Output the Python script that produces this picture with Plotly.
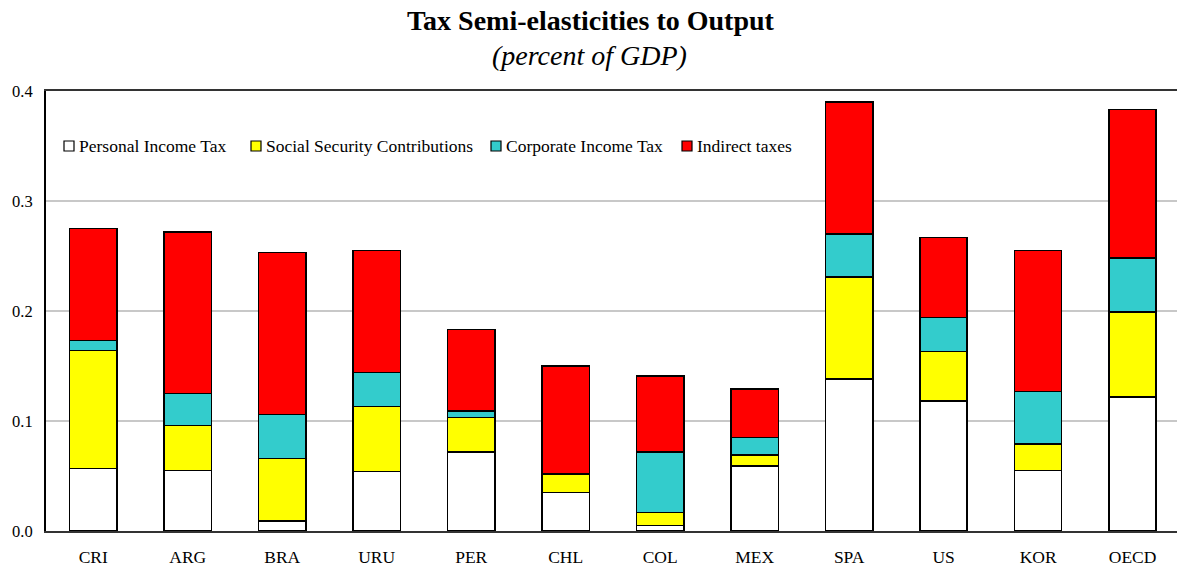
import plotly.graph_objects as go

# Tax semi-elasticities by component, percent of GDP
countries = ["CRI", "ARG", "BRA", "URU", "PER", "CHL", "COL", "MEX", "SPA", "US", "KOR", "OECD"]
personal_income_tax = [0.057, 0.055, 0.009, 0.054, 0.072, 0.035, 0.005, 0.059, 0.138, 0.118, 0.055, 0.122]
social_security = [0.107, 0.041, 0.057, 0.059, 0.031, 0.017, 0.012, 0.010, 0.093, 0.045, 0.024, 0.077]
corporate_income_tax = [0.009, 0.029, 0.040, 0.031, 0.006, 0.000, 0.055, 0.016, 0.039, 0.031, 0.048, 0.049]
indirect_taxes = [0.102, 0.147, 0.147, 0.111, 0.074, 0.098, 0.069, 0.044, 0.120, 0.073, 0.128, 0.135]

series_names = ["Personal Income Tax", "Social Security Contributions", "Corporate Income Tax", "Indirect taxes"]
series_values = [personal_income_tax, social_security, corporate_income_tax, indirect_taxes]
series_colors = ["#FFFFFF", "#FFFF00", "#33CCCC", "#FF0000"]

FONT = "Liberation Serif"
W, H = 1177, 568
L, R, T, B = 46, 0, 91, 37
PW, PH = W - L - R, H - T - B


def px_x(x):
    return (x - L) / PW


def px_y(y):
    return (H - B - y) / PH


fig = go.Figure()
for name, vals, color in zip(series_names, series_values, series_colors):
    fig.add_trace(go.Bar(
        x=countries, y=vals, name=name, width=0.5, showlegend=False,
        marker=dict(color=color, line=dict(color="#000000", width=1.5)),
    ))

# Legend row: small outlined swatch followed by its label
legend_text_x = [77, 264, 504, 695]
legend_y = 146
shapes = []
annotations = []
for name, color, tx in zip(series_names, series_colors, legend_text_x):
    shapes.append(dict(
        type="rect", xref="paper", yref="paper",
        x0=px_x(tx - 13), x1=px_x(tx - 3), y0=px_y(legend_y + 5), y1=px_y(legend_y - 5),
        fillcolor=color, line=dict(color="#000000", width=1.2), layer="above",
    ))
    annotations.append(dict(
        text=name, xref="paper", yref="paper", x=px_x(tx), y=px_y(legend_y),
        xanchor="left", yanchor="middle", showarrow=False,
        font=dict(family=FONT, size=17.5, color="#000000"),
    ))

annotations += [
    dict(text="<b>Tax Semi-elasticities to Output</b>", xref="paper", yref="paper",
         x=px_x(591), y=px_y(21), xanchor="center", yanchor="middle",
         showarrow=False, font=dict(family=FONT, size=28, color="#000000")),
    dict(text="<i>(percent of GDP)</i>", xref="paper", yref="paper",
         x=px_x(589), y=px_y(56), xanchor="center", yanchor="middle",
         showarrow=False, font=dict(family=FONT, size=28, color="#000000")),
]

fig.update_layout(
    barmode="stack",
    width=W, height=H,
    margin=dict(l=L, r=R, t=T, b=B, autoexpand=False),
    plot_bgcolor="#FFFFFF", paper_bgcolor="#FFFFFF",
    font=dict(family=FONT, size=16, color="#000000"),
    showlegend=False,
    xaxis=dict(
        range=[-0.5, 11.47], automargin=False,
        showline=True, linecolor="#333333", linewidth=2, mirror=True,
        showgrid=False, ticks="outside", ticklen=9, tickcolor="rgba(0,0,0,0)",
        tickfont=dict(family=FONT, size=17.5),
    ),
    yaxis=dict(
        range=[0, 0.4], dtick=0.1, tickformat=".1f", automargin=False,
        showline=True, linecolor="#000000", linewidth=2,
        showgrid=True, gridcolor="#C8C8C8", gridwidth=1.5,
        zeroline=False,
        ticks="outside", ticklen=8, tickcolor="rgba(0,0,0,0)",
        tickfont=dict(family=FONT, size=16.5),
    ),
    shapes=shapes,
    annotations=annotations,
)

fig.write_html("out.html")
